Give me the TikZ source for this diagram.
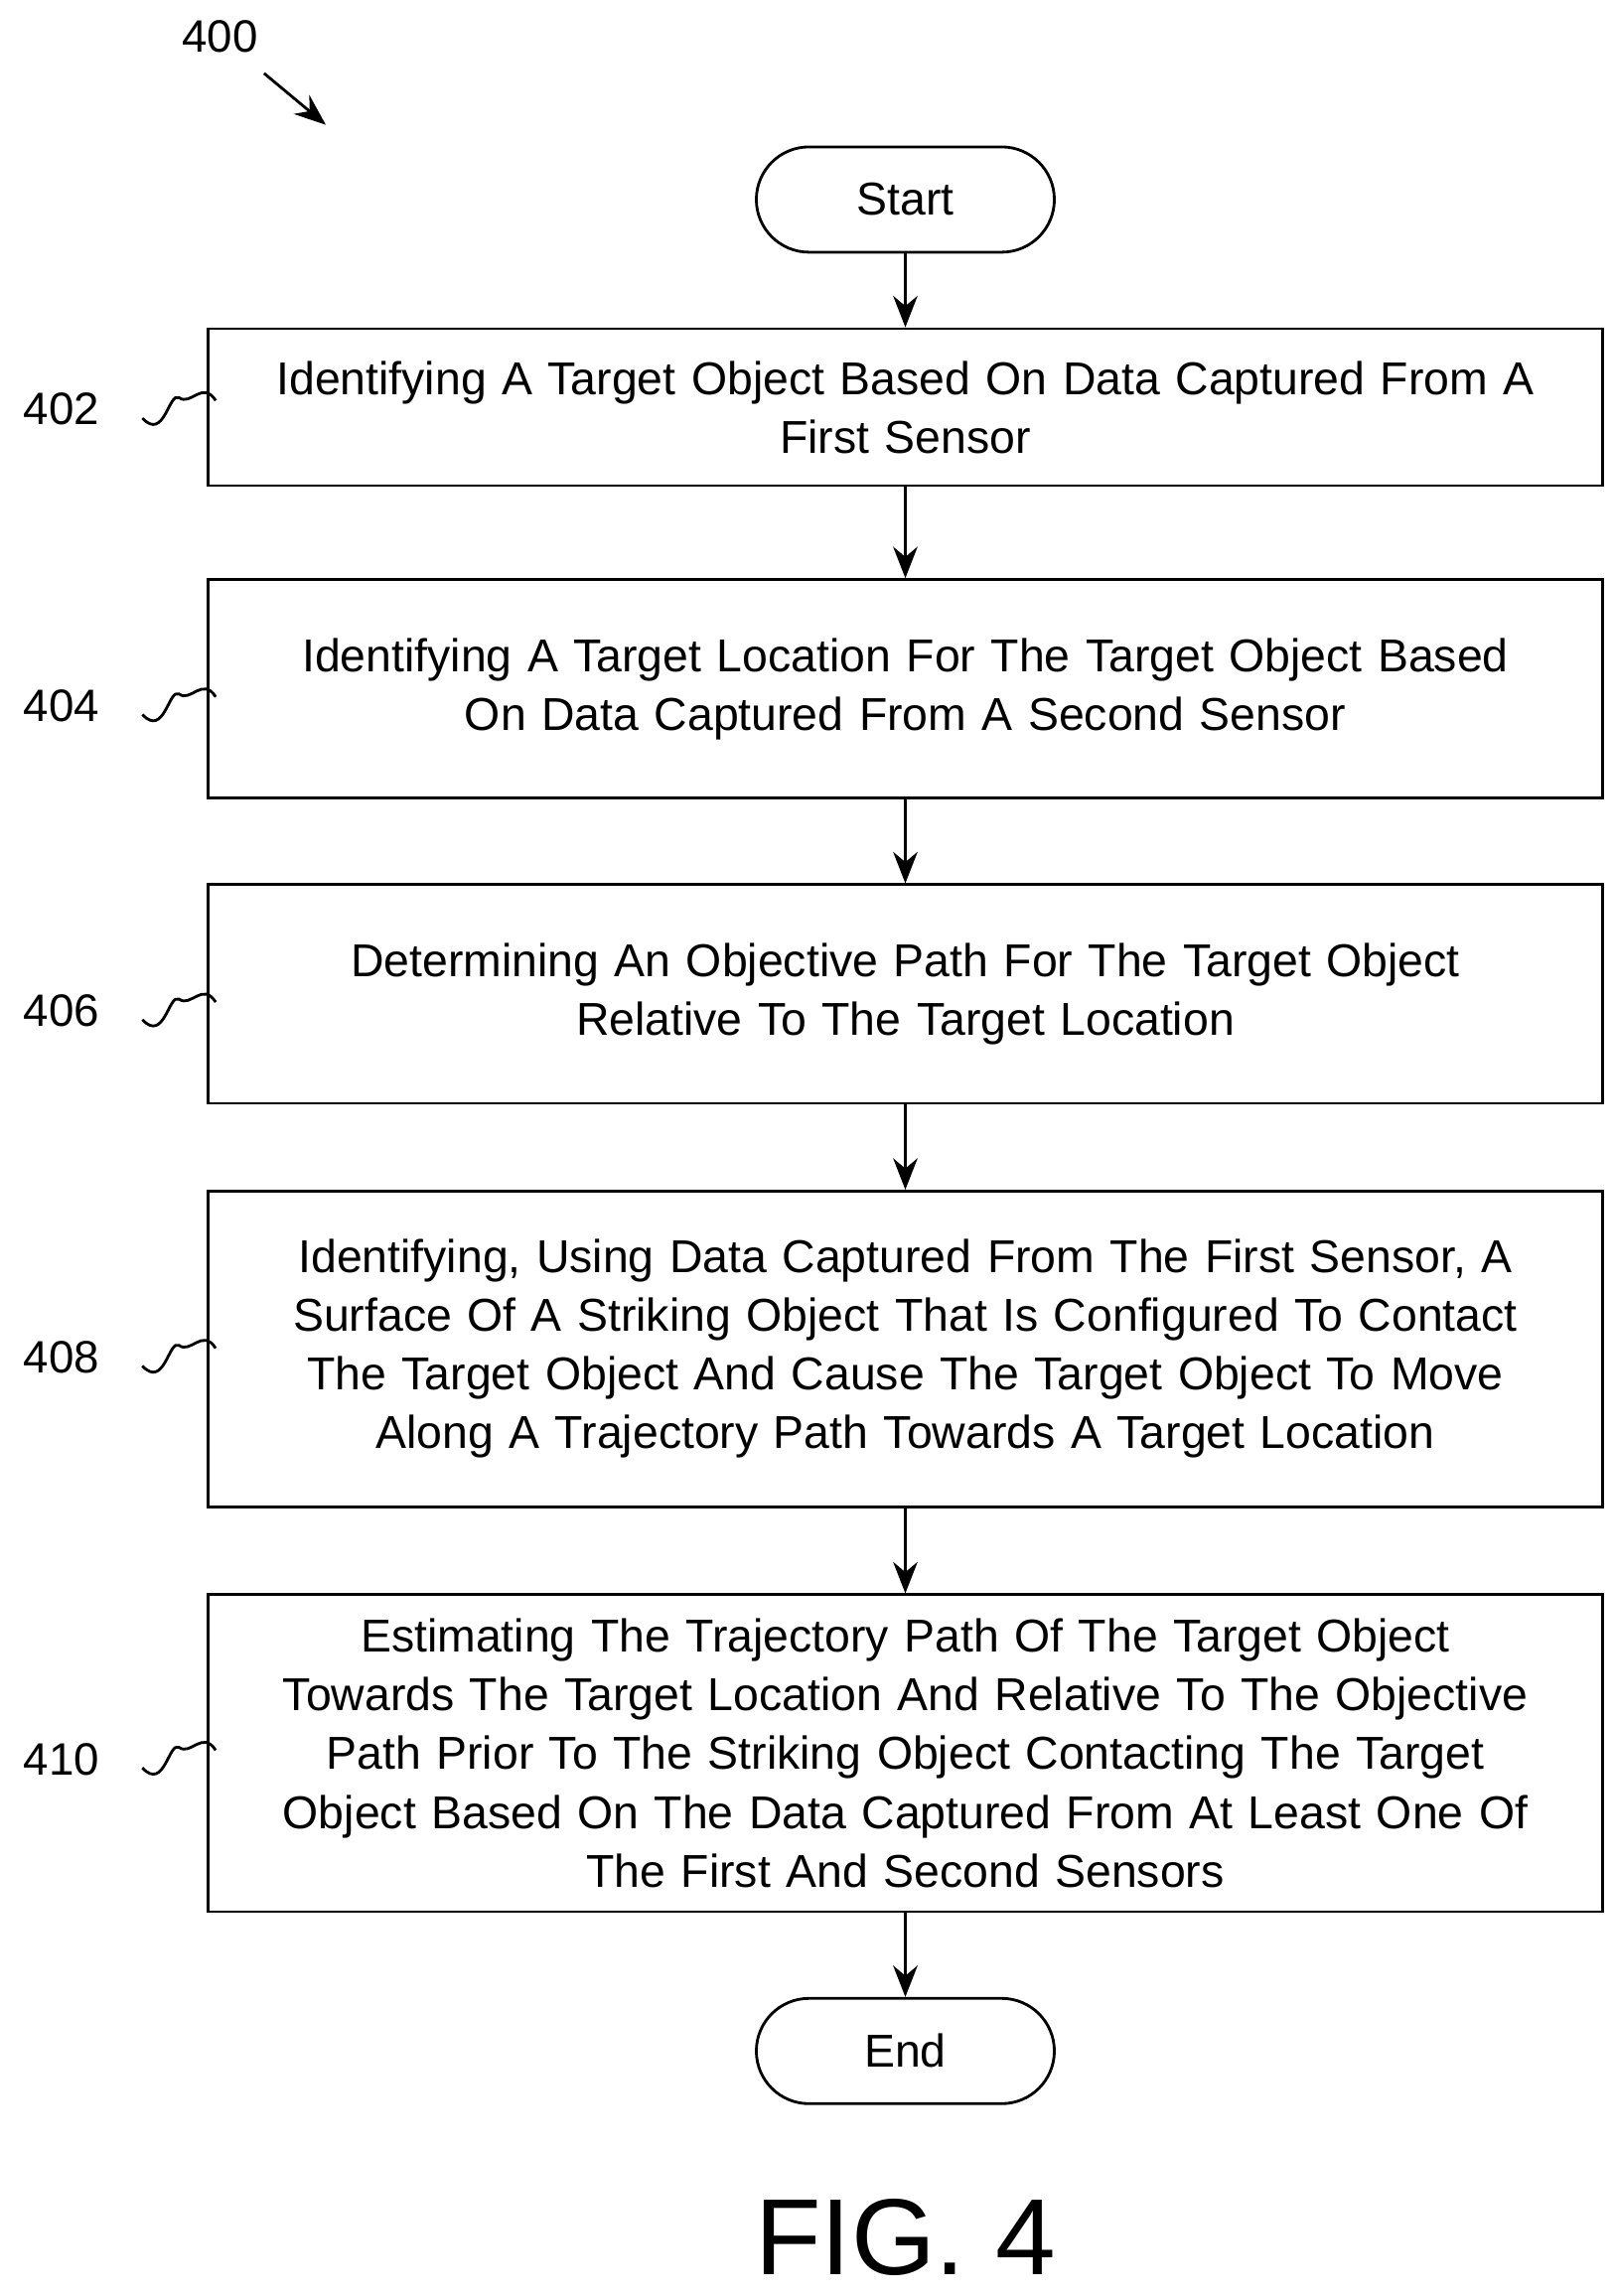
\documentclass[tikz,border=0pt]{standalone}
\usepackage{fontspec}
\setmainfont{Liberation Sans}
\usetikzlibrary{positioning, arrows.meta}

\begin{document}
\begin{tikzpicture}[x=0.014773cm, y=-0.014773cm,
    stepbox/.style={draw, thick, minimum width=13.89cm, text width=13.8cm, align=center,
        font=\fontsize{13.2}{16.8}\selectfont},
    term/.style={draw, thick, rounded corners=0.53cm, minimum width=3cm, minimum height=1.06cm,
        font=\fontsize{13.2}{16.8}\selectfont},
    flow/.style={-{Stealth[length=9pt,width=7pt]}, thick},
    tag/.style={font=\fontsize{13}{15}\selectfont}]
    \useasboundingbox (0,0) rectangle (1100,1565);
    % Reference numeral
    \node[tag] (n400) at (150,25) {400};
    \coordinate (a400) at (222,85);
    \draw[flow] (180,50) -- (a400);
    % Terminals and steps
    \node[term] (start) at (617,136) {Start};
    \node[stepbox, minimum height=1.58cm] (s402) at (617,277.5) {Identifying A Target Object Based On Data Captured From A\\ First Sensor};
    \node[stepbox, minimum height=2.2cm] (s404) at (617,469.5) {Identifying A Target Location For The Target Object Based\\ On Data Captured From A Second Sensor};
    \node[stepbox, minimum height=2.2cm] (s406) at (617,677.5) {Determining An Objective Path For The Target Object\\ Relative To The Target Location};
    \node[stepbox, minimum height=3.18cm] (s408) at (617,919.5) {Identifying, Using Data Captured From The First Sensor, A\\ Surface Of A Striking Object That Is Configured To Contact\\ The Target Object And Cause The Target Object To Move\\ Along A Trajectory Path Towards A Target Location};
    \node[stepbox, minimum height=3.19cm] (s410) at (617,1195) {Estimating The Trajectory Path Of The Target Object\\ Towards The Target Location And Relative To The Objective\\ Path Prior To The Striking Object Contacting The Target\\ Object Based On The Data Captured From At Least One Of\\ The First And Second Sensors};
    \node[term] (end) at (617,1398) {End};
    \draw[flow] (start) -- (s402);
    \draw[flow] (s402) -- (s404);
    \draw[flow] (s404) -- (s406);
    \draw[flow] (s406) -- (s408);
    \draw[flow] (s408) -- (s410);
    \draw[flow] (s410) -- (end);
    % Step numerals with squiggles
    \foreach \id/\yy in {402/279, 404/481, 406/689, 408/925, 410/1199} {
        \node[tag] (l\id) at (42,\yy) {\id};
        \draw[thick] (97,\yy+6) .. controls (112,\yy+22) and (115,\yy-12) .. (122,\yy-8)
            .. controls (130,\yy-2) and (138,\yy-20) .. (147,\yy-6);
    }
    \node[font=\fontsize{31}{36}\selectfont] (fig) at (617,1525) {FIG. 4};
\end{tikzpicture}
\end{document}
